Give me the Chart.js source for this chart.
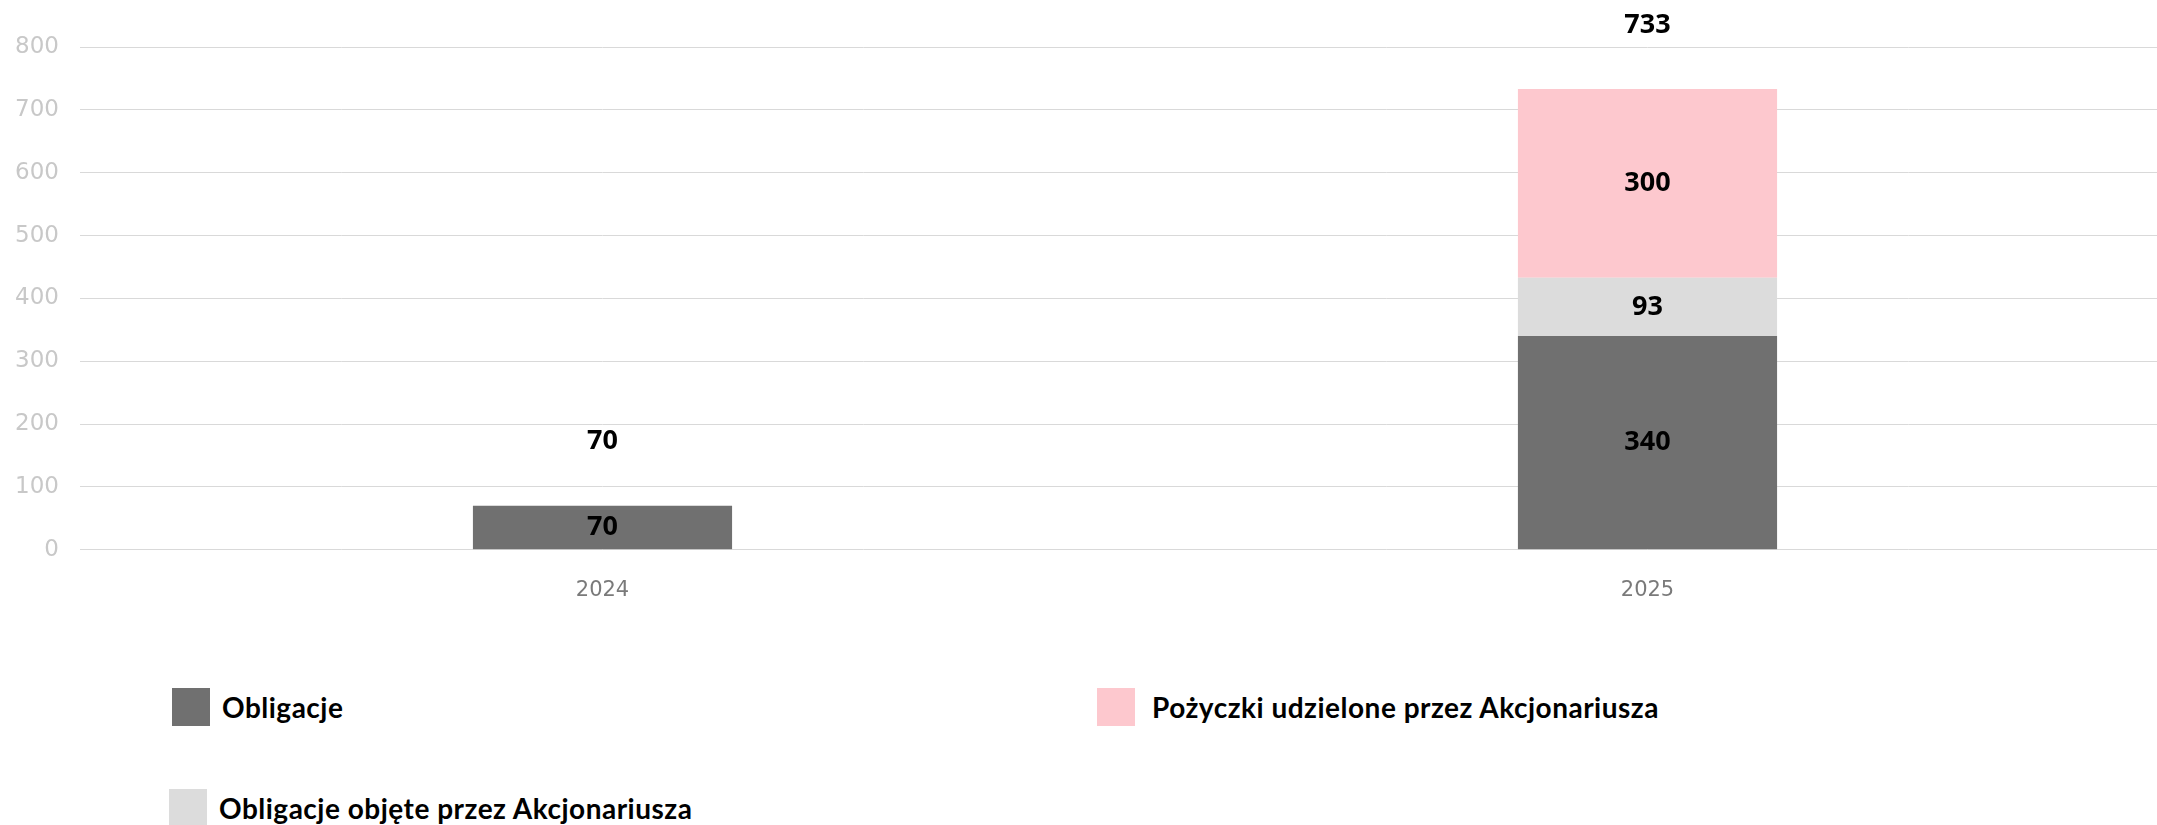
<!DOCTYPE html>
<html>
<head>
<meta charset="utf-8">
<script src="https://cdn.jsdelivr.net/npm/chart.js@4.4.1/dist/chart.umd.min.js"></script>
<style>
  html, body { margin: 0; padding: 0; background: #fff; overflow: hidden; }
  #wrap { position: relative; width: 2170px; height: 825px; }
  #chartBox { position: absolute; left: 0; top: 0; width: 2170px; height: 640px; }
  .legend-item { position: absolute; display: flex; align-items: center; font-family: Lato, "Noto Sans", sans-serif; font-weight: 700; font-size: 28px; letter-spacing: 0.5px; color: #000; white-space: nowrap; }
  .legend-item span.box { display: inline-block; width: 38px; height: 38px; }
</style>
</head>
<body>
<div id="wrap">
  <div id="chartBox"><canvas id="chart"></canvas></div>
  <div id="legend"></div>
</div>
<script>
const categories = ["2024", "2025"];
const obligacje = [70, 340];
const obligacjeAkcjonariusza = [null, 93];
const pozyczkiAkcjonariusza = [null, 300];
const yTicks = [0, 100, 200, 300, 400, 500, 600, 700, 800];

const seriesNames = ["Obligacje", "Obligacje objęte przez Akcjonariusza", "Pożyczki udzielone przez Akcjonariusza"];
const seriesColors = ["#707070", "#dcdcdc", "#fdc8ce"];

const totals = categories.map((c, i) =>
  (obligacje[i] || 0) + (obligacjeAkcjonariusza[i] || 0) + (pozyczkiAkcjonariusza[i] || 0));

const numberFont = 'bold 27px "Noto Sans", sans-serif';

// values inside each segment + totals above stacks
const labelsPlugin = {
  id: "segmentLabels",
  afterDatasetsDraw(chart) {
    const ctx = chart.ctx;
    ctx.save();
    ctx.font = numberFont;
    ctx.fillStyle = "#000";
    ctx.textAlign = "center";
    ctx.textBaseline = "middle";
    chart.data.datasets.forEach((ds, di) => {
      const meta = chart.getDatasetMeta(di);
      meta.data.forEach((bar, i) => {
        const v = ds.data[i];
        if (v == null) return;
        ctx.fillText(String(v), bar.x, (bar.y + bar.base) / 2);
      });
    });
    const yScale = chart.scales.y;
    const first = chart.getDatasetMeta(0);
    totals.forEach((t, i) => {
      ctx.fillText(String(t), first.data[i].x, yScale.getPixelForValue(t) - 64);
    });
    ctx.restore();
  }
};

const ctx = document.getElementById("chart").getContext("2d");
new Chart(ctx, {
  type: "bar",
  data: {
    labels: categories,
    datasets: [
      { label: seriesNames[0], data: obligacje, backgroundColor: seriesColors[0] },
      { label: seriesNames[1], data: obligacjeAkcjonariusza, backgroundColor: seriesColors[1] },
      { label: seriesNames[2], data: pozyczkiAkcjonariusza, backgroundColor: seriesColors[2] },
    ],
  },
  options: {
    responsive: true,
    maintainAspectRatio: false,
    animation: false,
    layout: { padding: { top: 47, left: 0, right: 0, bottom: 9 } },
    datasets: { bar: { barPercentage: 0.248, categoryPercentage: 1 } },
    plugins: { legend: { display: false }, tooltip: { enabled: false } },
    scales: {
      x: {
        stacked: true,
        grid: { display: false, drawTicks: false },
        border: { display: false },
        ticks: { color: "#7a7a7a", padding: 28, font: { family: "DejaVu Sans", size: 21 } },
      },
      y: {
        stacked: true,
        min: 0,
        max: 800,
        afterFit(scale) { scale.width = 80; },
        afterBuildTicks(scale) { scale.ticks = yTicks.map(v => ({ value: v })); },
        grid: { color: "#d9d9d9", lineWidth: 1, drawTicks: false },
        border: { display: false },
        ticks: { color: "#c8c8c8", padding: 21, font: { family: "DejaVu Sans", size: 23 } },
      },
    },
  },
  plugins: [labelsPlugin],
});

// legend laid out as in the reference (two columns)
const legendSpots = [
  { left: 172, top: 688, gap: 12 },
  { left: 169, top: 789, gap: 12 },
  { left: 1097, top: 688, gap: 17 },
];
const legendEl = document.getElementById("legend");
seriesNames.forEach((name, i) => {
  const item = document.createElement("div");
  item.className = "legend-item";
  item.style.left = legendSpots[i].left + "px";
  item.style.top = legendSpots[i].top + "px";
  item.innerHTML = '<span class="box" style="background:' + seriesColors[i] +
    ';margin-right:' + legendSpots[i].gap + 'px"></span>' + name;
  legendEl.appendChild(item);
});
</script>
</body>
</html>
